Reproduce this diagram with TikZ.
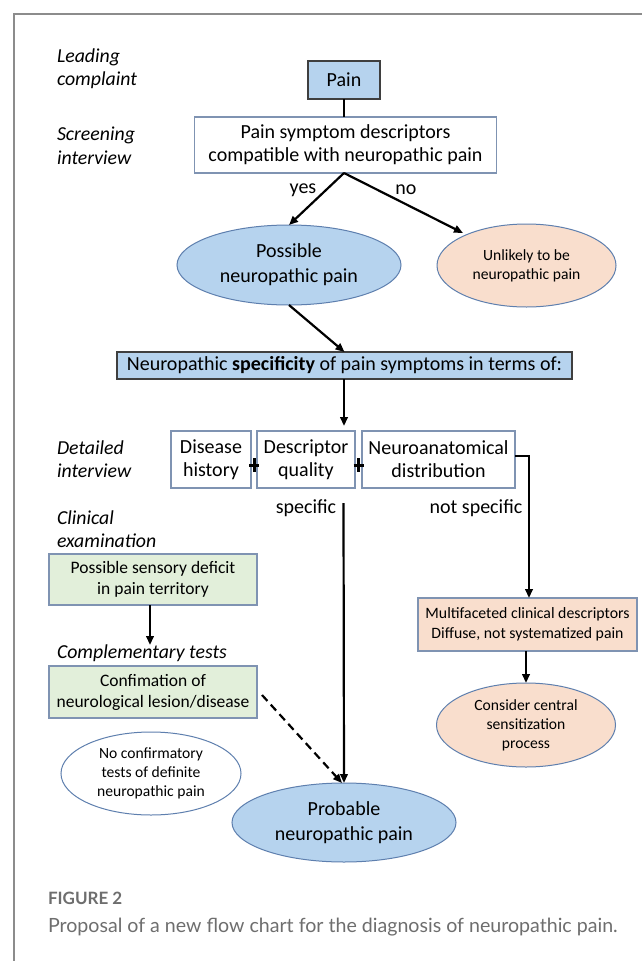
\documentclass[tikz,border=0pt]{standalone}
\usepackage{fontspec}
\setmainfont{Carlito}
\newfontfamily\capfont{Lato}
\usetikzlibrary{shapes.geometric,arrows.meta}
\definecolor{lblue}{HTML}{B6D3EE}
\definecolor{lorange}{HTML}{F9DECD}
\definecolor{lgreen}{HTML}{E2EFDA}
\definecolor{bdark}{HTML}{3F3F3F}
\definecolor{bblue}{HTML}{5E7FAE}
\definecolor{bgray}{HTML}{7F93B2}
\definecolor{framec}{HTML}{8C8C8C}
\definecolor{capc}{HTML}{6E6E6E}
\begin{document}
\begin{tikzpicture}[x=1pt,y=-1pt,
  every node/.style={inner sep=0pt,outer sep=0pt},
  boxd/.style={draw=bdark,line width=1.1pt,fill=lblue,rectangle,align=center,font=\fontsize{20}{23}\selectfont},
  boxw/.style={draw=bgray,line width=1.1pt,fill=white,rectangle,align=center,font=\fontsize{20}{23}\selectfont},
  boxg/.style={draw=bgray,line width=1.1pt,fill=lgreen,rectangle,align=center,font=\fontsize{17.5}{21}\selectfont},
  boxo/.style={draw=bgray,line width=1.1pt,fill=lorange,rectangle,align=center,font=\fontsize{15.8}{19.5}\selectfont},
  ellb/.style={draw=bblue,line width=1pt,fill=lblue,ellipse,align=center,font=\fontsize{20}{25}\selectfont},
  ello/.style={draw=bblue,line width=1pt,fill=lorange,ellipse,align=center,font=\fontsize{15.6}{19}\selectfont},
  ellw/.style={draw=bblue,line width=1pt,fill=white,ellipse,align=center,font=\fontsize{15.6}{19}\selectfont},
  sidelbl/.style={anchor=west,align=left,font=\fontsize{19.8}{23.5}\selectfont\itshape},
  edgelbl/.style={font=\fontsize{20}{23}\selectfont},
  arr/.style={line width=2.2pt,-{Triangle[length=9pt,width=7.5pt]}},
  plainln/.style={line width=2.2pt}
]
\useasboundingbox (0,0) rectangle (642,961);
\fill[white] (0,0) rectangle (642,961);
\draw[framec,line width=1.3pt] (14,961) -- (14,14) -- (642,14);

% side labels
\node[sidelbl] (l1) at (57,68.5) {Leading\\complaint};
\node[sidelbl] (l2) at (57,146) {Screening\\interview};
\node[sidelbl] (l3) at (57,459) {Detailed\\interview};
\node[sidelbl] (l4) at (57,529) {Clinical\\examination};
\node[sidelbl] (l5) at (57,653) {Complementary tests};

% nodes
\node[boxd,minimum width=72pt,minimum height=38pt] (pain) at (344,80) {Pain};
\node[boxw,minimum width=302pt,minimum height=56pt] (scr) at (345.5,145) {Pain symptom descriptors\\compatible with neuropathic pain};
\node[ellb,minimum width=224pt,minimum height=80pt] (poss) at (289,265) {Possible\\neuropathic pain};
\node[ello,minimum width=179pt,minimum height=83pt] (unl) at (526.5,265.5) {Unlikely to be\\neuropathic pain};
\node[boxd,minimum width=455pt,minimum height=27pt] (spec) at (344.5,365.5) {Neuropathic \textbf{specificity} of pain symptoms in terms of:};
\node[boxw,minimum width=80pt,minimum height=57pt] (dis) at (211,459.5) {Disease\\history};
\node[boxw,minimum width=98pt,minimum height=57pt] (desc) at (306,459.5) {Descriptor\\quality};
\node[boxw,minimum width=153pt,minimum height=57pt] (neuro) at (438.5,459.5) {Neuroanatomical\\distribution};
\node[boxg,minimum width=208pt,minimum height=51pt] (g1) at (153,579.5) {Possible sensory deficit\\in pain territory};
\node[boxg,minimum width=208pt,minimum height=52pt] (g2) at (153,692) {Confimation of\\neurological lesion/disease};
\node[boxo,minimum width=219pt,minimum height=53pt] (ora) at (527.5,624.5) {Multifaceted clinical descriptors\\Diffuse, not systematized pain};
\node[ello,minimum width=179pt,minimum height=84pt] (cons) at (526,725) {Consider central\\sensitization\\process};
\node[ellw,minimum width=180pt,minimum height=83pt] (noc) at (151,773.5) {No confirmatory\\tests of definite\\neuropathic pain};
\node[ellb,minimum width=224pt,minimum height=79pt] (prob) at (344,822.5) {Probable\\neuropathic pain};

% plus signs
\draw[line width=3pt] (249,465) -- (259,465) (254,458) -- (254,472);
\draw[line width=3pt] (353.5,465) -- (363.5,465) (358.5,458) -- (358.5,472);

% edge labels
\node[edgelbl] (yes) at (303,190) {yes};
\node[edgelbl] (no) at (406,190) {no};
\node[edgelbl] (sp) at (306,508) {specific};
\node[edgelbl] (nsp) at (476,508) {not specific};

% coordinates
\coordinate (apex) at (344,173);
\coordinate (ntip) at (463,233);
\coordinate (dtip) at (344,426);
\coordinate (sstart) at (343.5,503);
\coordinate (gtip) at (150,645);
\coordinate (dstart) at (262,695);

% connectors
\draw[plainln] (pain.south) -- (pain.south |- scr.north);
\draw[arr] (apex) -- (poss.north);
\draw[arr] (apex) -- (ntip);
\draw[arr] (poss.south) -- (spec.north);
\draw[arr] (spec.south -| dtip) -- (dtip);
\draw[arr] ([yshift=3.5pt]neuro.east) -| ([xshift=1.5pt]ora.north);
\draw[arr] (sstart) -- (prob.north);
\draw[arr] (g1.south -| gtip) -- (gtip);
\draw[arr,dash pattern=on 8pt off 5pt] (dstart) -- ([xshift=-2pt]prob.north);
\draw[arr] (ora.south -| cons.north) -- (cons.north);

% caption
\node[anchor=west,text=capc,font=\capfont\fontsize{17}{18}\selectfont\bfseries] (fig) at (48,898) {FIGURE 2};
\node[anchor=west,text=capc,font=\capfont\fontsize{19.6}{22}\selectfont] (cap) at (48,927) {Proposal of a new flow chart for the diagnosis of neuropathic pain.};
\end{tikzpicture}
\end{document}
